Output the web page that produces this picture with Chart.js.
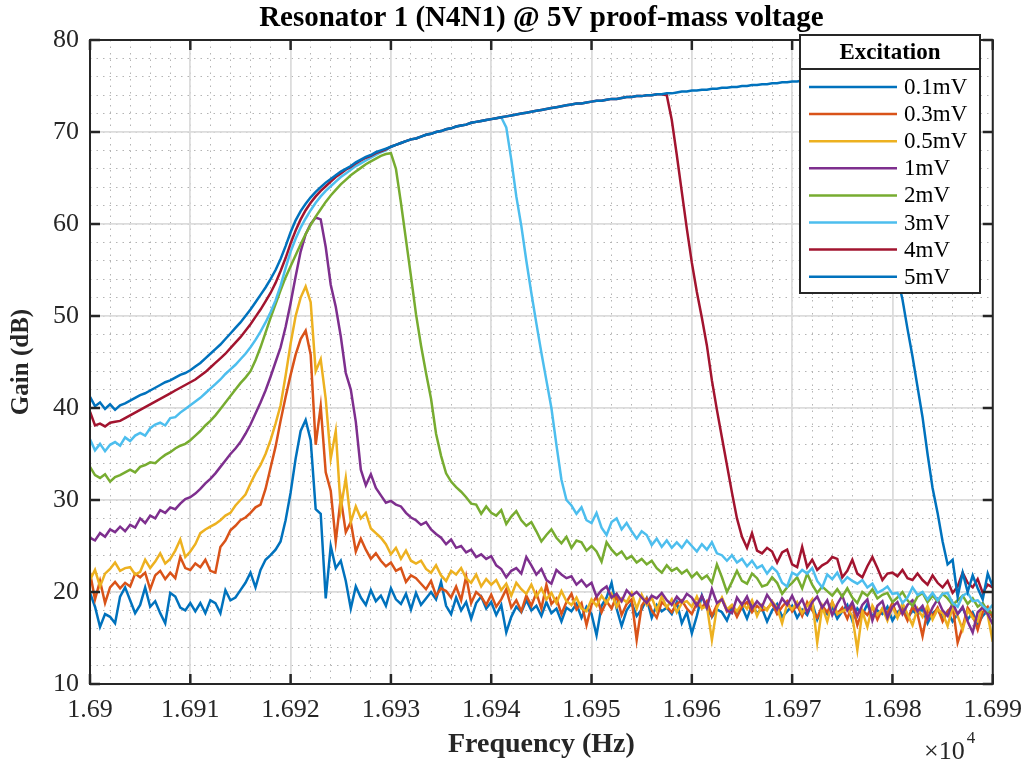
<!DOCTYPE html>
<html>
<head>
<meta charset="utf-8">
<title>Resonator 1 (N4N1) @ 5V proof-mass voltage</title>
<script src="https://cdn.jsdelivr.net/npm/chart.js@4.4.1/dist/chart.umd.min.js"></script>
<style>
  html, body { margin: 0; padding: 0; background: #fff; }
  #wrap { width: 1033px; height: 764px; }
</style>
</head>
<body>
<div id="wrap"><canvas id="chart" width="1033" height="764"></canvas></div>
<script>
// sweep frequencies, in units of 1e4 Hz
const freqs = [
  1.69000,1.69005,1.69010,1.69015,1.69020,1.69025,1.69030,1.69035,1.69040,1.69045,
  1.69050,1.69055,1.69060,1.69065,1.69070,1.69075,1.69080,1.69085,1.69090,1.69095,
  1.69100,1.69105,1.69110,1.69115,1.69120,1.69125,1.69130,1.69135,1.69140,1.69145,
  1.69150,1.69155,1.69160,1.69165,1.69170,1.69175,1.69180,1.69185,1.69190,1.69195,
  1.69200,1.69205,1.69210,1.69215,1.69220,1.69225,1.69230,1.69235,1.69240,1.69245,
  1.69250,1.69255,1.69260,1.69265,1.69270,1.69275,1.69280,1.69285,1.69290,1.69295,
  1.69300,1.69305,1.69310,1.69315,1.69320,1.69325,1.69330,1.69335,1.69340,1.69345,
  1.69350,1.69355,1.69360,1.69365,1.69370,1.69375,1.69380,1.69385,1.69390,1.69395,
  1.69400,1.69405,1.69410,1.69415,1.69420,1.69425,1.69430,1.69435,1.69440,1.69445,
  1.69450,1.69455,1.69460,1.69465,1.69470,1.69475,1.69480,1.69485,1.69490,1.69495,
  1.69500,1.69505,1.69510,1.69515,1.69520,1.69525,1.69530,1.69535,1.69540,1.69545,
  1.69550,1.69555,1.69560,1.69565,1.69570,1.69575,1.69580,1.69585,1.69590,1.69595,
  1.69600,1.69605,1.69610,1.69615,1.69620,1.69625,1.69630,1.69635,1.69640,1.69645,
  1.69650,1.69655,1.69660,1.69665,1.69670,1.69675,1.69680,1.69685,1.69690,1.69695,
  1.69700,1.69705,1.69710,1.69715,1.69720,1.69725,1.69730,1.69735,1.69740,1.69745,
  1.69750,1.69755,1.69760,1.69765,1.69770,1.69775,1.69780,1.69785,1.69790,1.69795,
  1.69800,1.69805,1.69810,1.69815,1.69820,1.69825,1.69830,1.69835,1.69840,1.69845,
  1.69850,1.69855,1.69860,1.69865,1.69870,1.69875,1.69880,1.69885,1.69890,1.69895,
  1.69900
];

const excitation = ["0.1mV", "0.3mV", "0.5mV", "1mV", "2mV", "3mV", "4mV", "5mV"];
const lineColors = ["#0072BD", "#D95319", "#EDB120", "#7E2F8E", "#77AC30", "#4DBEEE", "#A2142F", "#0072BD"];

const xTickLabels = ["1.69", "1.691", "1.692", "1.693", "1.694", "1.695", "1.696", "1.697", "1.698", "1.699"];
const yTickLabels = ["10", "20", "30", "40", "50", "60", "70", "80"];

// gain (dB) for each excitation level
const gain01 = [
  19.9,18.4,16.2,17.6,17.3,16.6,19.5,20.5,19.1,17.7,
  18.6,20.5,18.4,19.0,17.7,16.6,19.9,19.5,18.3,18.0,
  18.8,17.9,18.8,17.7,19.1,18.8,17.7,20.2,19.1,19.4,
  20.2,21.0,22.1,20.5,22.4,23.5,24.0,24.6,25.5,27.8,
  30.8,34.5,37.5,38.7,36.5,29.0,28.5,19.3,25.0,22.6,
  23.4,21.2,18.2,20.6,19.4,18.6,20.2,19.0,19.6,18.5,
  20.4,19.2,18.7,19.8,18.1,19.9,18.6,19.3,20.0,19.2,
  21.1,18.5,17.6,19.4,18.0,18.9,17.1,18.8,19.5,18.2,
  18.9,17.5,18.6,15.6,17.3,18.4,17.8,19.1,18.0,18.5,
  17.4,18.9,17.7,18.2,16.8,18.3,17.9,18.7,17.2,18.4,
  17.6,15.3,18.5,19.4,21.0,18.2,16.3,18.0,18.8,17.4,
  18.1,19.3,17.2,18.6,17.9,18.3,17.6,18.9,16.6,17.8,
  15.5,17.4,19.6,18.2,17.3,18.1,17.8,16.9,18.3,17.6,
  18.4,17.1,18.6,17.7,18.2,16.8,18.0,18.7,17.3,17.9,
  18.5,17.2,18.1,17.5,18.8,17.0,18.3,17.6,18.4,17.1,
  17.9,18.6,16.9,18.2,17.5,18.7,17.3,18.0,17.6,18.4,
  16.9,17.8,18.3,17.1,18.0,17.5,18.2,16.6,17.7,18.1,
  17.2,17.9,16.8,17.6,18.3,17.0,17.8,16.5,17.4,18.0,
  17.3
];
const gain03 = [
  22.1,19.2,21.2,18.8,20.5,21.1,20.4,21.0,20.6,22.0,
  21.6,22.1,20.3,21.8,22.3,21.4,22.1,21.5,23.8,22.6,
  22.4,23.1,22.7,23.5,22.3,22.1,24.9,25.6,26.7,27.2,
  27.8,28.1,28.6,29.2,29.5,31.2,33.5,35.8,38.6,41.2,
  43.6,45.8,47.5,48.4,45.8,36.0,40.2,33.0,31.0,25.5,
  30.2,26.5,27.6,24.4,25.8,24.6,23.6,24.2,23.4,22.8,
  23.2,22.3,22.6,21.1,21.8,21.5,20.9,20.3,21.2,19.6,
  20.4,20.1,19.4,20.6,19.1,21.7,18.8,20.0,19.5,18.6,
  19.7,18.4,19.2,20.3,18.3,19.1,17.9,19.6,18.5,19.9,
  18.2,20.8,18.7,19.3,17.6,18.9,19.8,18.1,18.8,16.4,
  18.6,19.5,17.8,19.0,18.2,19.6,17.5,18.7,19.2,14.8,
  18.5,19.3,18.0,17.2,18.9,18.4,17.8,18.7,19.1,18.2,
  17.6,18.8,18.3,19.0,17.4,18.6,19.3,17.9,18.5,17.3,
  18.4,18.9,17.8,18.5,18.0,18.2,18.8,17.6,18.4,19.0,
  17.9,18.6,17.4,18.9,18.0,17.2,18.5,17.8,18.9,17.6,
  18.3,17.1,18.6,16.4,18.0,17.5,18.4,17.0,18.2,17.7,
  18.8,17.3,18.1,16.9,18.4,17.6,15.2,18.0,17.4,18.3,
  16.8,17.9,18.5,14.5,16.2,18.3,17.5,15.9,17.8,18.4,
  17.2
];
const gain05 = [
  21.3,22.4,20.6,22.0,22.5,23.2,22.3,22.6,22.7,21.9,
  22.2,23.5,22.6,23.3,24.2,23.1,23.6,24.5,25.7,23.8,
  24.4,25.2,26.4,26.8,27.1,27.4,27.8,28.3,28.6,29.4,
  30.0,30.6,31.8,32.9,33.8,35.0,36.5,38.3,40.3,43.5,
  47.0,50.0,52.0,53.2,51.5,44.0,45.3,41.0,34.5,37.5,
  29.0,32.4,27.6,29.3,28.0,28.6,26.9,26.4,25.9,25.2,
  24.1,24.8,23.6,24.5,23.4,23.1,23.4,22.5,22.1,22.9,
  21.8,21.2,22.3,21.9,22.6,21.5,21.0,21.9,20.6,21.4,
  20.8,21.3,20.2,20.9,19.6,21.0,20.3,19.8,20.8,19.5,
  20.4,19.2,19.9,18.8,20.1,19.0,18.6,19.4,18.2,17.9,
  19.2,18.5,19.6,18.8,19.8,18.4,19.3,18.9,19.9,18.2,
  19.7,18.6,19.4,18.0,19.5,18.3,19.2,17.8,18.8,19.0,
  18.4,19.5,18.2,18.5,14.8,18.3,19.4,18.1,18.6,17.9,
  18.8,18.2,19.1,17.4,18.6,18.0,19.0,18.3,16.6,18.7,
  18.1,18.9,17.7,18.5,19.2,14.5,18.4,16.8,18.9,17.6,
  17.9,18.2,17.4,13.7,17.9,16.2,18.5,17.5,18.2,16.9,
  18.4,17.2,18.8,17.6,16.4,18.2,17.3,18.5,17.0,18.1,
  17.7,16.3,18.4,17.4,15.9,18.0,17.2,16.8,18.6,17.5,
  14.6
];
const gain1 = [
  25.9,25.6,26.4,26.0,26.8,26.5,27.1,26.6,27.3,27.0,
  28.0,27.5,28.3,28.0,28.9,28.6,29.2,29.0,29.6,30.1,
  30.3,30.7,31.2,31.8,32.3,32.9,33.6,34.3,35.0,35.6,
  36.3,37.2,38.2,39.4,40.6,41.9,43.4,45.0,46.6,48.8,
  51.4,54.3,57.0,58.9,60.0,60.7,60.5,57.5,53.4,51.0,
  47.8,43.8,42.0,38.5,33.3,31.6,32.8,31.3,30.5,29.7,
  29.9,29.5,29.3,28.6,28.1,27.8,27.3,27.6,26.8,26.3,
  25.9,25.2,25.7,24.8,25.0,24.3,24.6,23.8,24.1,23.6,
  23.9,22.9,22.5,21.6,22.3,22.6,22.0,23.8,22.9,21.9,
  22.5,21.3,20.9,22.4,21.9,21.5,21.7,20.8,21.3,20.6,
  21.0,19.5,20.2,20.6,19.4,19.8,19.0,20.2,19.6,20.0,
  19.4,18.8,19.6,19.3,19.9,19.1,18.6,19.5,18.9,19.8,
  19.4,18.5,19.6,18.3,20.3,18.8,19.2,18.0,17.7,19.4,
  18.6,19.5,18.2,19.0,18.4,19.7,18.9,18.1,19.3,18.6,
  19.6,18.4,19.2,17.8,18.9,19.5,18.3,19.1,17.5,18.7,
  19.6,18.0,18.9,17.4,18.6,19.2,16.9,18.5,19.0,17.2,
  18.4,18.9,17.6,18.6,19.1,17.9,18.5,17.1,18.3,19.2,
  18.0,17.4,18.8,17.6,18.4,16.8,15.6,17.8,18.3,17.6,
  16.5
];
const gain2 = [
  33.6,32.7,32.4,32.8,32.0,32.5,32.7,33.0,33.3,33.0,
  33.6,33.8,34.1,34.0,34.5,34.9,35.2,35.6,35.9,36.1,
  36.5,37.0,37.5,38.1,38.6,39.2,39.9,40.6,41.3,42.0,
  42.7,43.3,44.0,45.2,46.6,48.2,49.8,51.3,52.8,54.2,
  55.4,56.6,57.8,58.9,59.9,60.8,61.6,62.4,63.1,63.7,
  64.3,64.8,65.3,65.7,66.1,66.5,66.8,67.1,67.4,67.6,
  67.7,66.0,62.3,58.3,54.3,50.2,46.8,43.8,41.0,37.2,
  34.8,32.9,32.0,31.4,30.9,30.3,29.6,29.5,28.5,29.3,
  28.6,28.3,28.9,27.4,28.2,28.8,27.8,27.2,27.6,26.6,
  25.5,26.2,26.8,25.9,25.3,26.0,24.8,25.6,25.4,24.5,
  25.0,24.4,23.3,25.4,24.6,24.0,24.4,23.6,23.9,23.2,
  23.6,23.0,23.4,22.6,22.1,22.9,22.3,22.6,22.0,22.4,
  21.6,22.1,21.4,21.8,21.0,23.0,21.6,20.0,21.1,22.3,
  21.2,20.9,22.0,21.5,20.6,20.8,21.6,21.0,19.8,20.5,
  21.0,21.6,20.4,22.0,20.8,19.9,20.6,20.1,19.6,20.3,
  19.5,20.4,19.4,18.8,20.0,19.6,20.3,19.3,19.7,19.9,
  18.9,19.4,20.0,19.1,18.5,19.5,19.9,18.9,19.6,19.0,
  19.8,19.3,18.6,19.1,19.6,18.7,19.3,18.4,18.8,17.9,
  17.7
];
const gain3 = [
  36.6,35.4,36.1,35.3,36.0,36.3,35.9,36.8,36.4,37.0,
  37.3,37.0,37.8,38.2,38.4,38.1,38.9,39.0,39.5,39.9,
  40.3,40.7,41.1,41.6,42.1,42.6,43.1,43.7,44.2,44.7,
  45.3,45.9,46.6,47.4,48.3,49.3,50.4,51.7,53.3,55.2,
  57.0,58.4,59.6,60.6,61.5,62.3,63.0,63.6,64.1,64.6,
  65.1,65.5,65.9,66.3,66.6,66.9,67.2,67.5,67.8,68.0,
  68.4,68.6,68.8,69.0,69.2,69.3,69.5,69.7,69.8,70.0,
  70.1,70.3,70.4,70.6,70.7,70.8,71.0,71.1,71.2,71.3,
  71.4,71.5,71.6,70.5,67.0,63.0,59.8,56.0,52.5,49.2,
  46.0,43.0,40.0,36.0,32.2,30.0,29.4,28.5,29.2,27.8,
  27.5,28.6,27.0,26.2,27.6,28.0,26.8,27.5,26.6,25.8,
  26.6,26.2,25.1,25.8,24.9,25.6,24.8,25.4,24.8,25.6,
  25.0,24.4,25.2,24.6,25.4,24.2,24.0,23.4,24.0,23.2,
  23.6,22.8,23.4,22.6,22.9,22.0,22.7,22.2,21.0,20.6,
  22.1,21.8,22.4,22.0,22.6,21.2,20.5,21.9,21.4,22.1,
  21.0,21.6,21.2,20.9,21.3,20.5,20.9,19.9,20.2,20.6,
  19.8,19.9,18.8,19.4,20.5,19.7,20.0,19.2,19.9,19.1,
  19.8,19.9,18.8,18.4,19.6,19.9,19.0,19.1,18.5,18.0,
  18.6
];
const gain4 = [
  39.6,38.1,38.3,38.0,38.4,38.5,38.6,38.9,39.2,39.5,
  39.8,40.1,40.4,40.7,41.0,41.3,41.6,41.9,42.2,42.5,
  42.8,43.1,43.5,43.9,44.4,44.9,45.4,45.9,46.5,47.1,
  47.7,48.4,49.1,49.9,50.7,51.6,52.5,53.6,54.9,56.3,
  57.9,59.3,60.5,61.5,62.3,63.0,63.6,64.1,64.6,65.1,
  65.5,65.9,66.2,66.6,66.9,67.2,67.4,67.7,67.9,68.1,
  68.4,68.6,68.8,69.0,69.2,69.3,69.5,69.7,69.8,70.0,
  70.1,70.3,70.4,70.6,70.7,70.8,71.0,71.1,71.2,71.3,
  71.4,71.5,71.6,71.7,71.8,71.9,72.0,72.1,72.2,72.3,
  72.4,72.5,72.6,72.7,72.8,72.9,73.0,73.1,73.1,73.2,
  73.3,73.4,73.4,73.5,73.6,73.6,73.7,73.8,73.8,73.9,
  73.9,74.0,74.0,74.1,74.1,74.0,71.3,67.5,63.5,59.5,
  55.8,52.6,49.8,46.8,43.0,39.8,36.8,33.8,30.8,28.0,
  26.0,24.8,26.4,24.5,24.2,24.8,24.4,23.2,24.3,24.6,
  23.0,22.7,24.9,22.7,23.5,22.4,22.9,23.2,23.8,23.6,
  21.6,22.3,23.5,22.0,21.6,22.8,23.8,22.6,21.3,22.0,
  22.1,21.7,22.4,21.5,21.3,22.0,21.3,20.8,21.8,21.0,
  20.5,21.2,19.9,20.6,22.1,21.0,20.5,21.4,19.9,20.8,
  20.5
];
const gain5 = [
  41.2,40.2,40.6,39.9,40.4,39.8,40.3,40.5,40.8,41.1,
  41.4,41.6,41.9,42.2,42.5,42.8,43.0,43.3,43.6,43.8,
  44.1,44.5,44.9,45.4,45.9,46.4,46.9,47.5,48.1,48.7,
  49.3,50.0,50.7,51.5,52.3,53.1,54.0,55.0,56.2,57.6,
  59.1,60.4,61.4,62.2,62.9,63.5,64.0,64.5,64.9,65.3,
  65.7,66.0,66.3,66.7,67.0,67.3,67.5,67.8,68.0,68.2,
  68.4,68.6,68.8,69.0,69.2,69.3,69.5,69.7,69.8,70.0,
  70.1,70.3,70.4,70.6,70.7,70.8,71.0,71.1,71.2,71.3,
  71.4,71.5,71.6,71.7,71.8,71.9,72.0,72.1,72.2,72.3,
  72.4,72.5,72.6,72.7,72.8,72.9,73.0,73.1,73.1,73.2,
  73.3,73.4,73.4,73.5,73.6,73.6,73.7,73.8,73.8,73.9,
  73.9,74.0,74.0,74.1,74.1,74.2,74.2,74.3,74.4,74.4,
  74.5,74.5,74.6,74.6,74.7,74.7,74.8,74.8,74.9,74.9,
  75.0,75.0,75.1,75.1,75.2,75.2,75.3,75.3,75.4,75.4,
  75.5,75.5,75.6,75.6,75.7,75.7,75.8,75.8,75.8,75.9,
  75.9,76.0,76.0,76.0,76.1,76.1,72.2,68.6,65.0,61.5,
  57.6,54.2,51.8,48.6,45.6,42.3,39.0,35.0,31.3,28.6,
  25.5,23.0,23.5,19.5,22.1,20.0,21.8,20.4,19.2,22.0,
  20.6
];

const gains = [gain01, gain03, gain05, gain1, gain2, gain3, gain4, gain5];

Chart.defaults.font.family = "'Liberation Serif', 'Times New Roman', serif";
Chart.defaults.color = "#262626";

// MATLAB style box with inward tick marks
const boxPlugin = {
  id: "boxPlugin",
  afterDatasetsDraw(chart) {
    const { ctx, chartArea: a, scales } = chart;
    ctx.save();
    ctx.strokeStyle = "#262626";
    ctx.lineWidth = 2.5;
    ctx.beginPath();
    scales.x.ticks.forEach(t => {
      const px = scales.x.getPixelForValue(t.value);
      ctx.moveTo(px, a.bottom); ctx.lineTo(px, a.bottom - 10);
      ctx.moveTo(px, a.top); ctx.lineTo(px, a.top + 10);
    });
    scales.y.ticks.forEach(t => {
      const py = scales.y.getPixelForValue(t.value);
      ctx.moveTo(a.left, py); ctx.lineTo(a.left + 10, py);
      ctx.moveTo(a.right, py); ctx.lineTo(a.right - 10, py);
    });
    ctx.stroke();
    ctx.lineWidth = 2;
    ctx.strokeRect(a.left, a.top, a.right - a.left, a.bottom - a.top);
    ctx.restore();
  }
};

// legend box with a title, drawn over the lines
const legendPlugin = {
  id: "legendPlugin",
  afterDraw(chart) {
    const ctx = chart.ctx;
    const left = 800, top = 35, right = 980, bottom = 293;
    ctx.save();
    ctx.fillStyle = "#fff";
    ctx.fillRect(left, top, right - left, bottom - top);
    ctx.strokeStyle = "#262626";
    ctx.lineWidth = 2;
    ctx.strokeRect(left, top, right - left, bottom - top);
    ctx.beginPath();
    ctx.moveTo(left, 69); ctx.lineTo(right, 69);
    ctx.stroke();
    ctx.fillStyle = "#000";
    ctx.font = "bold 23px 'Liberation Serif'";
    ctx.textAlign = "center";
    ctx.textBaseline = "middle";
    ctx.fillText("Excitation", (left + right) / 2, 53);
    ctx.font = "23px 'Liberation Serif'";
    ctx.textAlign = "left";
    chart.data.datasets.forEach((ds, i) => {
      const y = 87 + i * 27.1;
      ctx.strokeStyle = ds.borderColor;
      ctx.lineWidth = 2.5;
      ctx.beginPath();
      ctx.moveTo(809, y); ctx.lineTo(897, y);
      ctx.stroke();
      ctx.fillText(ds.label, 904, y + 1);
    });
    ctx.restore();
  }
};

// title and exponent label
const textPlugin = {
  id: "textPlugin",
  afterDraw(chart) {
    const { ctx, chartArea: a } = chart;
    ctx.save();
    ctx.fillStyle = "#000";
    ctx.textAlign = "center";
    ctx.textBaseline = "middle";
    ctx.font = "bold 29px 'Liberation Serif'";
    ctx.fillText("Resonator 1 (N4N1) @ 5V proof-mass voltage", (a.left + a.right) / 2, 19);
    ctx.fillStyle = "#262626";
    ctx.textAlign = "left";
    ctx.font = "26px 'Liberation Serif'";
    const base = "\u00d710";
    ctx.fillText(base, 924, 752);
    const w = ctx.measureText(base).width;
    ctx.font = "17px 'Liberation Serif'";
    ctx.fillText("4", 924 + w + 2, 739);
    ctx.restore();
  }
};

const datasets = gains.map((g, i) => ({
  label: excitation[i],
  data: freqs.map((f, k) => ({ x: f, y: g[k] })),
  borderColor: lineColors[i],
  borderWidth: 2.5,
  pointRadius: 0,
  fill: false,
  tension: 0,
  order: gains.length - i
}));

new Chart(document.getElementById("chart"), {
  type: "line",
  data: { datasets },
  options: {
    responsive: false,
    animation: false,
    events: [],
    layout: { padding: { top: 40, right: 39, left: 0, bottom: 0 } },
    plugins: {
      legend: { display: false },
      tooltip: { enabled: false },
      title: { display: false }
    },
    scales: {
      xMinor: {
        type: "linear", position: "bottom", min: 1.69, max: 1.699,
        ticks: { display: false, stepSize: 0.0002, maxTicksLimit: 100 },
        grid: { color: "#b4b4b4", lineWidth: 1, drawTicks: false },
        border: { display: false, dash: [1.5, 5] },
        afterFit: s => { s.height = 0; }
      },
      yMinor: {
        type: "linear", position: "left", min: 10, max: 80,
        ticks: { display: false, stepSize: 2, maxTicksLimit: 100 },
        grid: { color: "#b4b4b4", lineWidth: 1, drawTicks: false },
        border: { display: false, dash: [1.5, 5] },
        afterFit: s => { s.width = 0; }
      },
      x: {
        type: "linear", position: "bottom", min: 1.69, max: 1.699,
        ticks: {
          stepSize: 0.001, padding: 11, maxRotation: 0, autoSkip: false,
          font: { size: 26 },
          callback: (v, i) => xTickLabels[i]
        },
        grid: { color: "#dcdcdc", lineWidth: 1.8, drawTicks: false },
        border: { display: false },
        title: { display: true, text: "Frequency (Hz)", font: { size: 28, weight: "bold" }, padding: { top: 0, bottom: 2 } },
        afterFit: s => { s.height = 80; }
      },
      y: {
        type: "linear", position: "left", min: 10, max: 80,
        ticks: {
          stepSize: 10, padding: 11,
          font: { size: 26 },
          callback: (v, i) => yTickLabels[i]
        },
        grid: { color: "#dcdcdc", lineWidth: 1.8, drawTicks: false },
        border: { display: false },
        title: { display: true, text: "Gain (dB)", font: { size: 25, weight: "bold" }, padding: { top: 7, bottom: 0 } },
        afterFit: s => { s.width = 90; }
      }
    }
  },
  plugins: [boxPlugin, legendPlugin, textPlugin]
});
</script>
</body>
</html>
